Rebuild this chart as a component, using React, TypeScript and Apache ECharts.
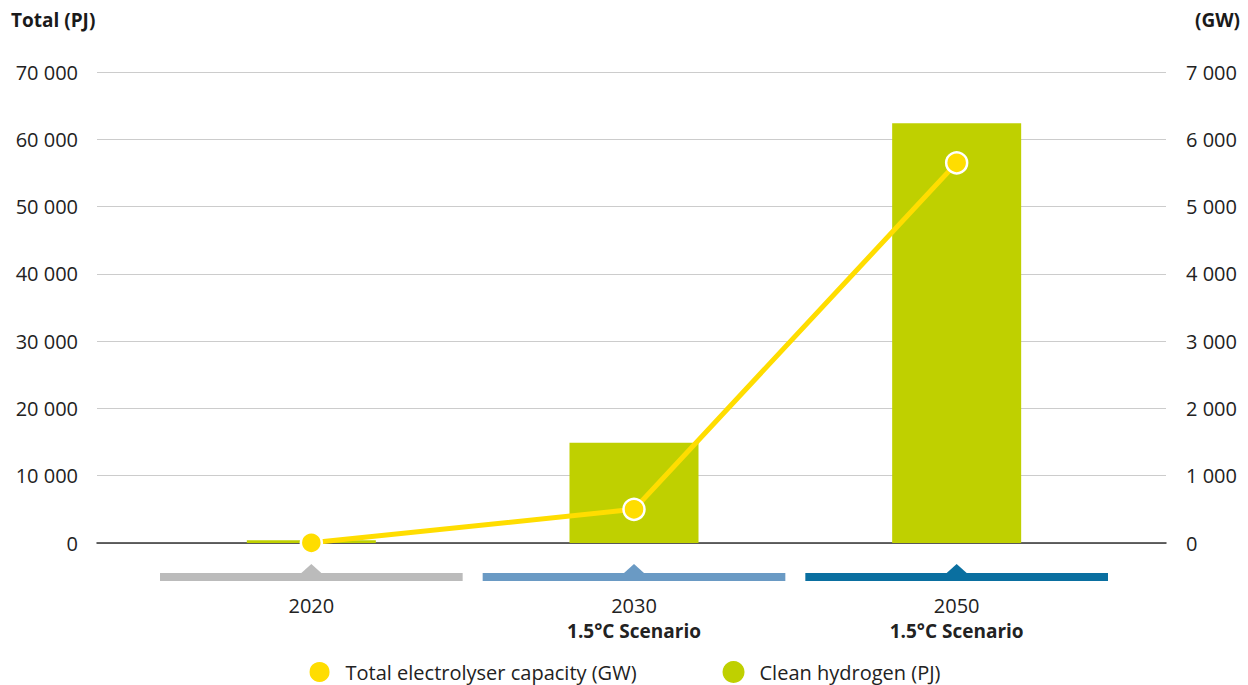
import React, { useEffect, useRef } from "react";
import * as echarts from "echarts";

const categories = ["2020", "2030", "2050"];
const scenarioLabels = ["", "1.5°C Scenario", "1.5°C Scenario"];
const cleanHydrogenPJ = [400, 14900, 62400];
const electrolyserGW = [3, 500, 5650];
const leftTicks = { min: 0, max: 70000, interval: 10000 };
const rightTicks = { min: 0, max: 7000, interval: 1000 };
const markerColors = ["#BBBBBB", "#6A9AC4", "#0A6FA0"];

const FONT = "Open Sans";
const fmt = (v: number) => String(v).replace(/\B(?=(\d{3})+(?!\d))/g, " ");

export default function App() {
  const ref = useRef<HTMLDivElement>(null);
  useEffect(() => {
    document.body.style.margin = "0";
    const chart = echarts.init(ref.current!, null, { renderer: "svg" });
    const grid = { top: 72, bottom: 142 };
    chart.setOption({
      animation: false,
      textStyle: { fontFamily: FONT },
      grid: [
        { left: 97, right: 82, ...grid },
        { left: 150, right: 130, ...grid },
      ],
      graphic: [
        { type: "text", left: 11, top: 10, style: { text: "Total (PJ)", font: `bold 19px ${FONT}`, fill: "#1a1a1a" } },
        { type: "text", right: 8, top: 10, style: { text: "(GW)", font: `bold 19px ${FONT}`, fill: "#1a1a1a" } },
      ],
      legend: {
        data: ["Total electrolyser capacity (GW)", "Clean hydrogen (PJ)"],
        left: "center",
        top: 660,
        icon: "circle",
        itemWidth: 22,
        itemHeight: 22,
        itemGap: 86,
        padding: 0,
        textStyle: { fontSize: 20, color: "#222", fontFamily: FONT, padding: [0, 0, 0, 10] },
      },
      xAxis: [
        {
          type: "category",
          gridIndex: 0,
          data: categories,
          axisLine: { show: true, lineStyle: { color: "#333", width: 1.5 } },
          axisTick: { show: false },
          axisLabel: { show: false },
        },
        {
          type: "category",
          gridIndex: 1,
          data: categories,
          axisLine: { show: false },
          axisTick: { show: false },
          axisLabel: {
            margin: 49,
            formatter: (v: string, i: number) =>
              scenarioLabels[i] ? `{a|${v}}\n{b|${scenarioLabels[i]}}` : `{a|${v}}`,
            rich: {
              a: { fontSize: 20, color: "#222", lineHeight: 26, fontFamily: FONT },
              b: { fontSize: 19, color: "#222", fontWeight: "bold", lineHeight: 26, fontFamily: FONT },
            },
          },
        },
      ],
      yAxis: [
        {
          type: "value",
          gridIndex: 0,
          position: "left",
          ...leftTicks,
          axisLine: { show: false },
          axisTick: { show: false },
          splitLine: { lineStyle: { color: "#CCCCCC", width: 1 } },
          axisLabel: { margin: 19, fontSize: 20, color: "#222", formatter: fmt },
        },
        {
          type: "value",
          gridIndex: 0,
          position: "right",
          ...rightTicks,
          axisLine: { show: false },
          axisTick: { show: false },
          splitLine: { show: false },
          axisLabel: { margin: 20, fontSize: 20, color: "#222", formatter: fmt },
        },
        { type: "value", gridIndex: 1, ...leftTicks, show: false },
        { type: "value", gridIndex: 1, ...rightTicks, show: false },
      ],
      series: [
        {
          name: "Clean hydrogen (PJ)",
          type: "bar",
          xAxisIndex: 1,
          yAxisIndex: 2,
          data: cleanHydrogenPJ,
          barWidth: 129,
          itemStyle: { color: "#BFD000" },
          z: 2,
        },
        {
          name: "Total electrolyser capacity (GW)",
          type: "line",
          xAxisIndex: 1,
          yAxisIndex: 3,
          data: electrolyserGW,
          symbol: "circle",
          symbolSize: 21,
          lineStyle: { color: "#FFDD00", width: 5 },
          itemStyle: { color: "#FFDD00", borderColor: "#FFFFFF", borderWidth: 2.5 },
          z: 5,
        },
        {
          name: "markers",
          type: "custom",
          xAxisIndex: 1,
          yAxisIndex: 2,
          silent: true,
          clip: false,
          data: categories.map((_, i) => [i, 0]),
          renderItem: (params: any, api: any) => {
            const idx = api.value(0);
            const [cx, cy] = api.coord([idx, 0]);
            const bw = api.size([1, 0])[0];
            const color = markerColors[idx];
            return {
              type: "group",
              children: [
                {
                  type: "rect",
                  shape: { x: cx - bw / 2 + 10, y: cy + 30, width: bw - 20, height: 8 },
                  style: { fill: color },
                },
                {
                  type: "polygon",
                  shape: { points: [[cx - 10, cy + 30], [cx, cy + 21], [cx + 10, cy + 30]] },
                  style: { fill: color },
                },
              ],
            };
          },
        },
      ],
    });
    return () => chart.dispose();
  }, []);
  return <div ref={ref} style={{ width: 1248, height: 685 }} />;
}
